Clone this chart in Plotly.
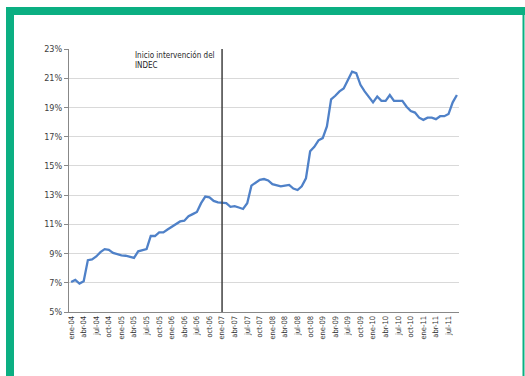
import plotly.graph_objects as go

meses = ["ene", "feb", "mar", "abr", "may", "jun", "jul", "ago", "sep", "oct", "nov", "dic"]
years = ["04", "05", "06", "07", "08", "09", "10", "11"]
categories = [f"{m}-{y}" for y in years for m in meses][:93]  # ene-04 .. sep-11

values = [
    7.05, 7.2, 6.95, 7.1, 8.55, 8.6, 8.8, 9.1, 9.3, 9.25, 9.05, 8.95,
    8.88, 8.85, 8.8, 8.7, 9.15, 9.2, 9.3, 10.2, 10.2, 10.45, 10.45, 10.65,
    10.85, 11.05, 11.2, 11.25, 11.55, 11.7, 11.85, 12.45, 12.9, 12.85, 12.6, 12.5,
    12.5, 12.45, 12.2, 12.25, 12.15, 12.05, 12.45, 13.65, 13.85, 14.05, 14.1, 14.0,
    13.75, 13.65, 13.6, 13.65, 13.7, 13.45, 13.35, 13.6, 14.15, 16.0, 16.3, 16.75,
    16.9, 17.7, 19.55, 19.8, 20.1, 20.3, 20.85, 21.45, 21.35, 20.55, 20.1, 19.7,
    19.35, 19.75, 19.45, 19.45, 19.85, 19.45, 19.45, 19.45, 19.05, 18.75, 18.65, 18.3,
    18.15, 18.3, 18.3, 18.2, 18.4, 18.4, 18.55, 19.35, 19.85,
]

tick_labels = categories[::3]
y_ticks = list(range(5, 24, 2))
event_category = "ene-07"
annotation_text = "Inicio intervención del<br>INDEC"

W, H = 525, 376
L, R, T, B = 69, 459, 49, 312  # plot area in pixels


def px_x(p):
    return (p - L) / (R - L)


def px_y(p):
    return (B - p) / (B - T)


FONT = "Liberation Sans Narrow, Arial Narrow, DejaVu Sans Condensed, sans-serif"
GREEN = "#0BAF82"

fig = go.Figure()
fig.add_trace(go.Scatter(
    x=categories, y=values, mode="lines",
    line=dict(color="#4F81C8", width=2.3),
    showlegend=False, hoverinfo="skip",
))

ev = categories.index(event_category)
fig.add_shape(type="line", xref="x", yref="y", x0=ev, x1=ev, y0=5, y1=23,
              line=dict(color="#404040", width=1.5))

# green frame
fig.add_shape(type="rect", xref="paper", yref="paper",
              x0=px_x(6), x1=px_x(525), y0=px_y(7), y1=px_y(15),
              fillcolor=GREEN, line=dict(width=0), layer="above")
fig.add_shape(type="rect", xref="paper", yref="paper",
              x0=px_x(6), x1=px_x(14), y0=px_y(7), y1=px_y(380),
              fillcolor=GREEN, line=dict(width=0), layer="above")
fig.add_shape(type="rect", xref="paper", yref="paper",
              x0=px_x(522.5), x1=px_x(524.5), y0=px_y(7), y1=px_y(380),
              fillcolor=GREEN, line=dict(width=0), layer="above")

fig.add_annotation(text=annotation_text, xref="paper", yref="paper",
                   x=px_x(133), y=px_y(48), xanchor="left", yanchor="top",
                   align="left", showarrow=False,
                   font=dict(family=FONT, size=8, color="#262626"))

fig.update_layout(
    width=W, height=H,
    margin=dict(l=L, r=W - R, t=T, b=H - B, pad=0),
    paper_bgcolor="white", plot_bgcolor="white",
    font=dict(family=FONT, color="#404040"),
)
fig.update_xaxes(
    type="category", categoryorder="array", categoryarray=categories,
    range=[-0.5, len(categories) - 0.5],
    tickmode="array", tickvals=tick_labels, ticktext=tick_labels,
    tickangle=-90, tickfont=dict(size=7.5, color="#333333"),
    showgrid=False, showline=True, linecolor="#888888", linewidth=1,
    ticks="", zeroline=False,
)
fig.update_yaxes(
    range=[5, 23], tickmode="array", tickvals=y_ticks,
    ticktext=[f"{v}%" for v in y_ticks],
    tickfont=dict(size=9, color="#404040"),
    showgrid=True, gridcolor="#D9D9D9", gridwidth=1,
    showline=True, linecolor="#888888", linewidth=1,
    ticks="outside", ticklen=4, tickcolor="#888888", zeroline=False,
)

fig.write_html("out.html")
